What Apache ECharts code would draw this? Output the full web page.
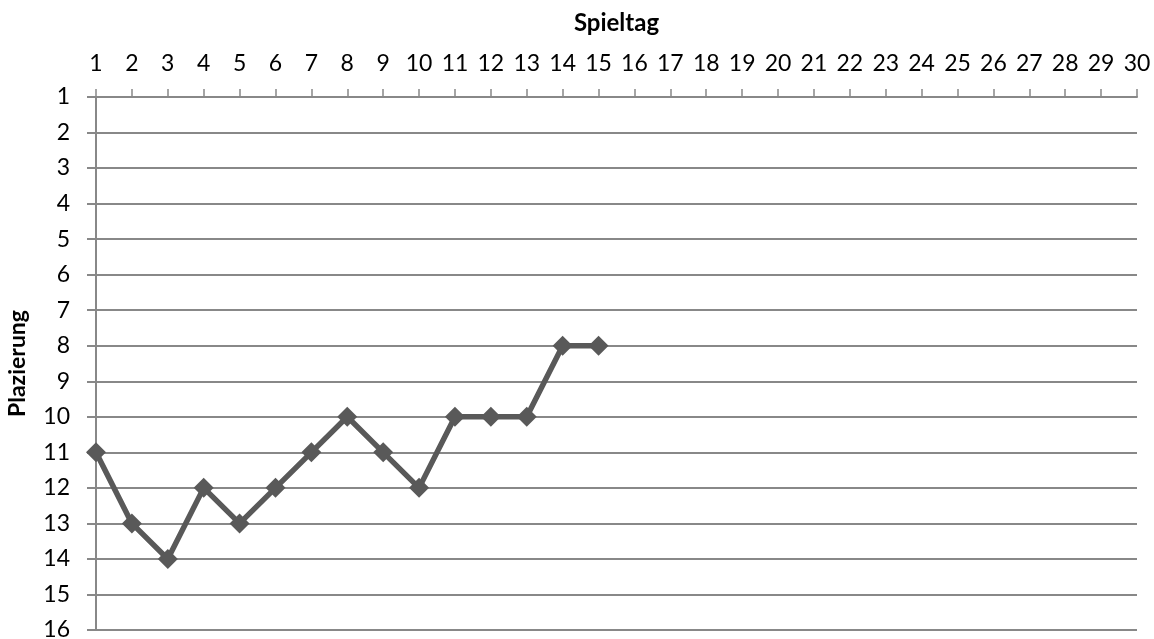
<!DOCTYPE html>
<html>
<head>
<meta charset="utf-8">
<script src="https://cdn.jsdelivr.net/npm/echarts@6/dist/echarts.min.js"></script>
<style>html,body{margin:0;padding:0;background:#fff}#c{width:1154px;height:639px}</style>
</head>
<body>
<div id="c"></div>
<script>
const spieltage = Array.from({length: 30}, (_, i) => String(i + 1));
const plazierung = [11, 13, 14, 12, 13, 12, 11, 10, 11, 12, 10, 10, 10, 8, 8];
const xTitle = 'Spieltag';
const yTitle = 'Plazierung';

const font = 'Lato, "Liberation Sans", sans-serif';
const chart = echarts.init(document.getElementById('c'), null, {renderer: 'canvas'});
chart.setOption({
  animation: false,
  backgroundColor: '#fff',
  grid: {left: 96, right: 17, top: 97, bottom: 9, containLabel: false, outerBoundsMode: 'none'},
  xAxis: {
    type: 'category',
    data: spieltage,
    position: 'top',
    boundaryGap: false,
    name: xTitle,
    nameLocation: 'middle',
    nameGap: 62,
    nameTextStyle: {fontFamily: font, fontWeight: 'bold', fontSize: 24, color: '#000'},
    axisLine: {show: true, lineStyle: {color: '#888', width: 2}},
    axisTick: {show: true, inside: false, length: 8, alignWithLabel: true, lineStyle: {color: '#888', width: 1.5}},
    axisLabel: {fontFamily: font, fontSize: 23, color: '#000', margin: 22, interval: 0},
    splitLine: {show: false}
  },
  yAxis: {
    type: 'value',
    inverse: true,
    min: 1,
    max: 16,
    interval: 1,
    name: yTitle,
    nameLocation: 'middle',
    nameRotate: 90,
    nameGap: 67,
    nameTextStyle: {fontFamily: font, fontWeight: 'bold', fontSize: 23, color: '#000'},
    axisLine: {show: true, lineStyle: {color: '#888', width: 2}},
    axisTick: {show: true, inside: false, length: 9, lineStyle: {color: '#888', width: 2}},
    axisLabel: {fontFamily: font, fontSize: 23, color: '#000', margin: 26},
    splitLine: {show: true, lineStyle: {color: '#888', width: 2}}
  },
  series: [{
    type: 'line',
    data: plazierung,
    symbol: 'diamond',
    symbolSize: 20,
    showAllSymbol: true,
    lineStyle: {color: '#595959', width: 5.5},
    itemStyle: {color: '#595959'},
    emphasis: {disabled: true}
  }]
});
</script>
</body>
</html>
